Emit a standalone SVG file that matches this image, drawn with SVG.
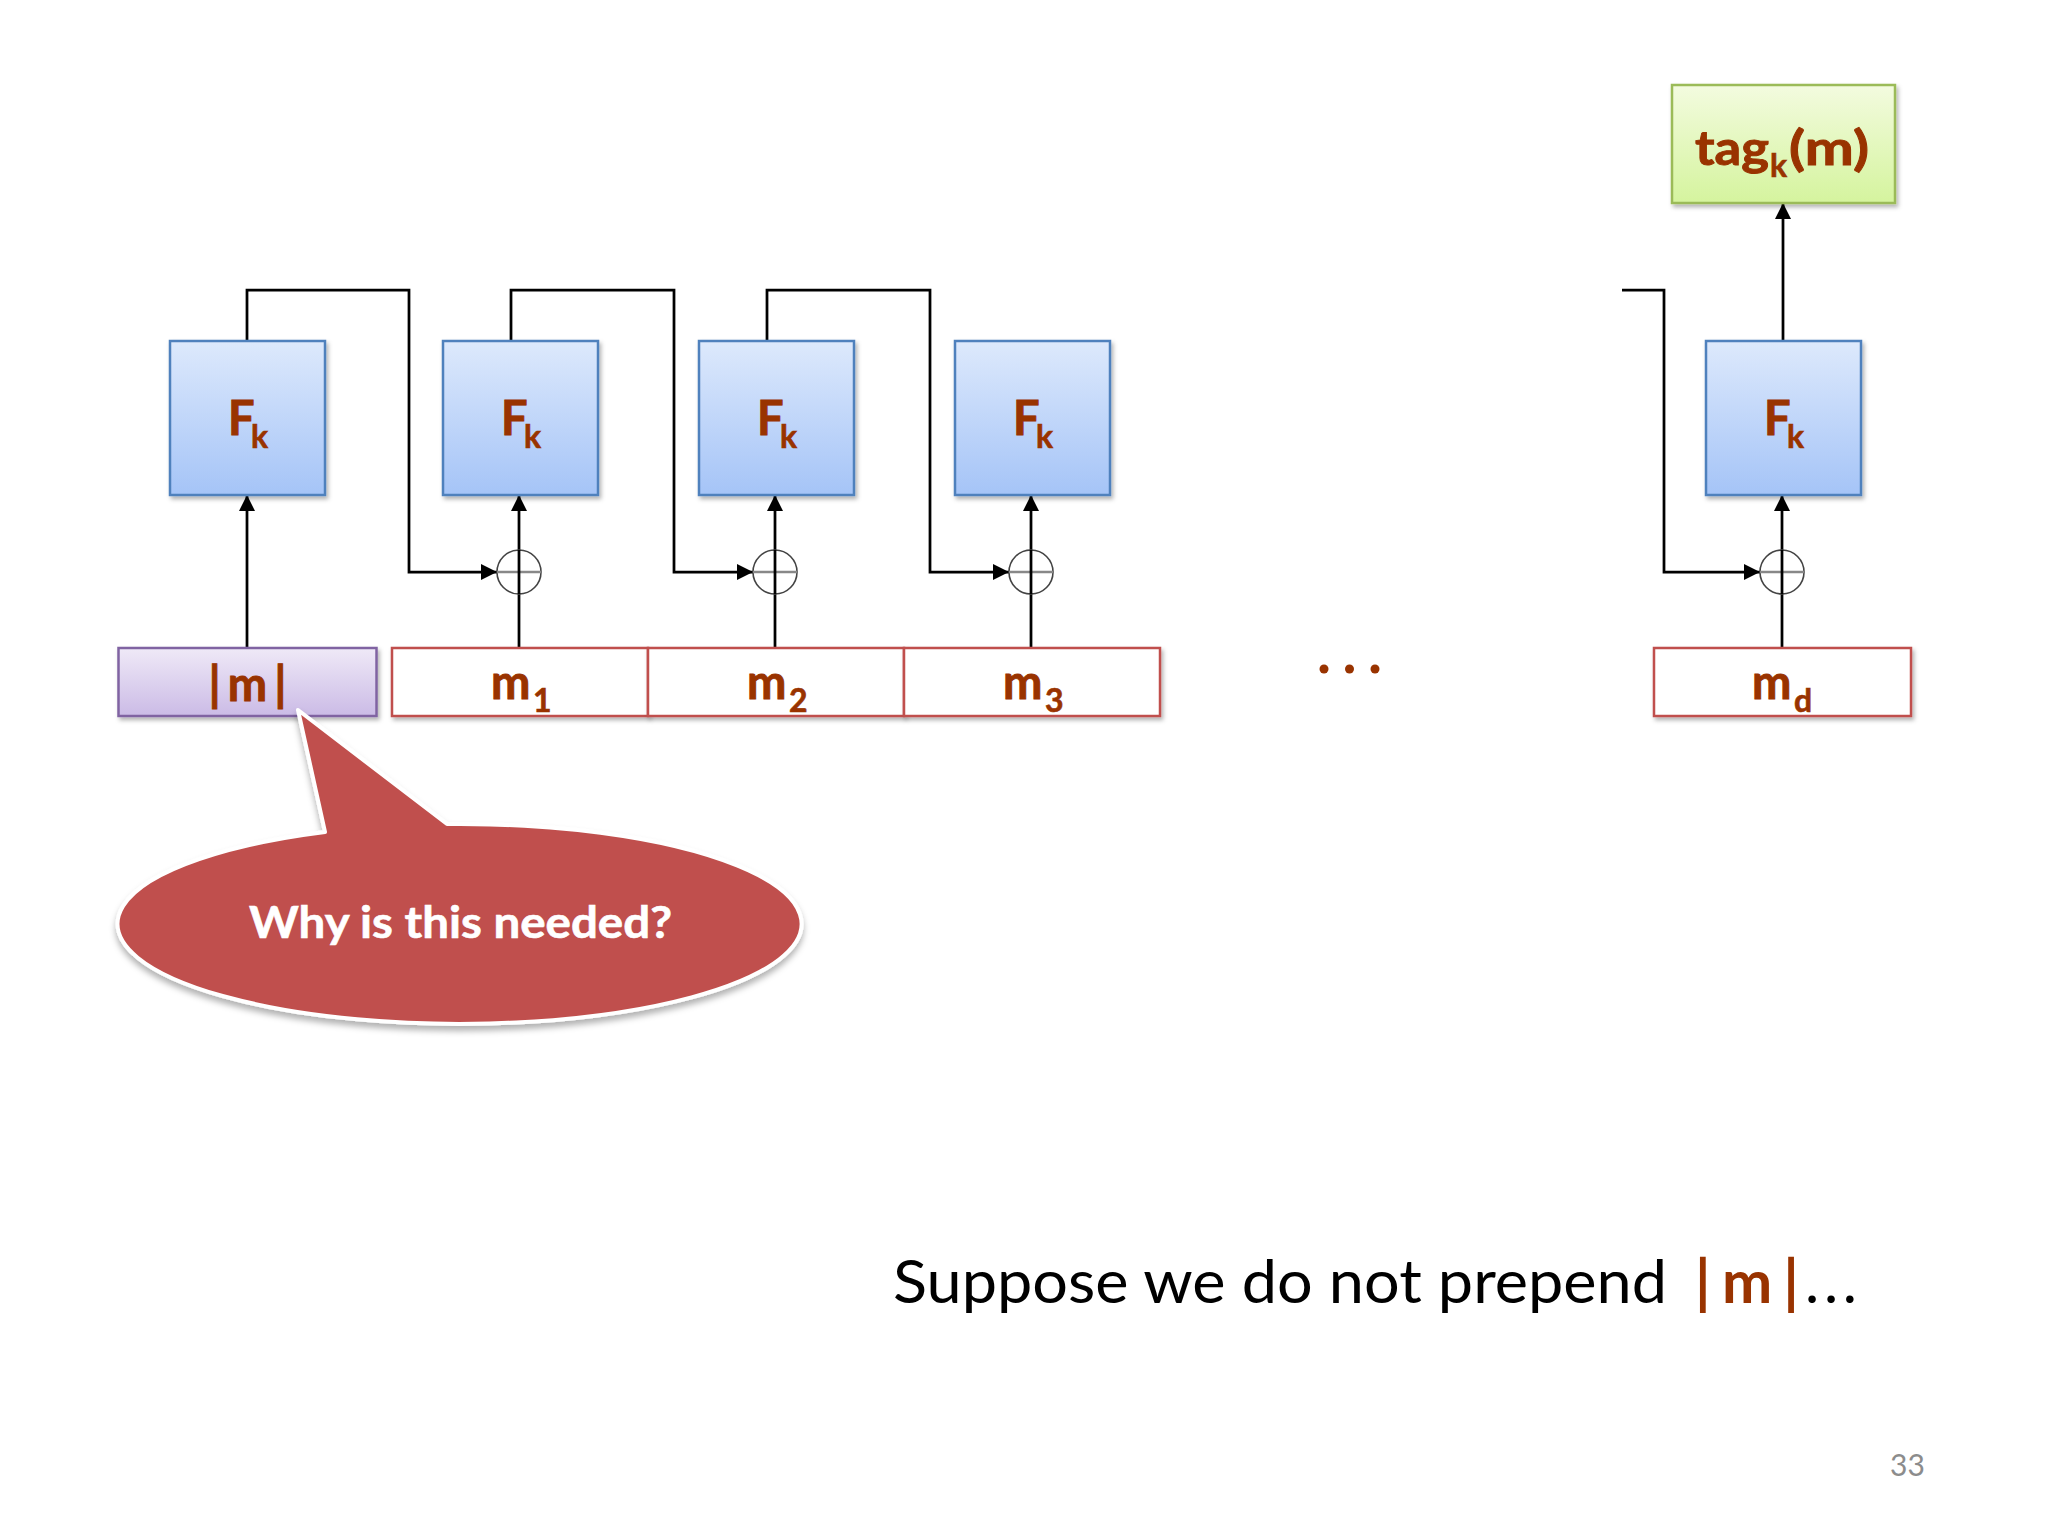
<svg xmlns="http://www.w3.org/2000/svg" width="2048" height="1536" viewBox="0 0 2048 1536">
<defs>
<style>
.lbl{font-family:"Lato","Open Sans",sans-serif;font-weight:bold;fill:#993300;stroke:#993300;stroke-width:0.9;font-size:47px}
.sub{font-size:32px;stroke-width:0.6}
.fbox{fill:url(#gBlue);stroke:#4f81bd;stroke-width:2.5;filter:url(#sh)}
.mbox{fill:#ffffff;stroke:#c0504d;stroke-width:2.5;filter:url(#sh)}
.conn{fill:none;stroke:#000;stroke-width:2.75}
.arr{marker-end:url(#ah)}
.xc{fill:#ffffff;stroke:#444;stroke-width:1.6}
.xh{stroke:#888;stroke-width:2.5}
</style>
<linearGradient id="gBlue" x1="0" y1="0" x2="0" y2="1"><stop offset="0" stop-color="#dde9fc"/><stop offset="1" stop-color="#a5c4f7"/></linearGradient>
<linearGradient id="gPurple" x1="0" y1="0" x2="0" y2="1"><stop offset="0" stop-color="#efe9f7"/><stop offset="1" stop-color="#cbbbe6"/></linearGradient>
<linearGradient id="gGreen" x1="0" y1="0" x2="0" y2="1"><stop offset="0" stop-color="#f3fbdf"/><stop offset="1" stop-color="#d5f49e"/></linearGradient>
<filter id="sh" x="-10%" y="-10%" width="130%" height="140%"><feDropShadow dx="2" dy="3" stdDeviation="2" flood-color="#000" flood-opacity="0.3"/></filter>
<filter id="sh2" x="-10%" y="-10%" width="130%" height="140%"><feDropShadow dx="0" dy="5" stdDeviation="3" flood-color="#000" flood-opacity="0.3"/></filter>
<marker id="ah" viewBox="0 0 10 10" refX="10" refY="5" markerWidth="17" markerHeight="16" markerUnits="userSpaceOnUse" orient="auto"><path d="M0,0 L10,5 L0,10 z" fill="#000"/></marker>
</defs>
<rect width="2048" height="1536" fill="#ffffff"/>

<g id="connectors">
<path class="conn arr" d="M247,648 V495"/>
<path class="conn" d="M519,648 V594"/>
<path class="conn arr" d="M519,550 V495"/>
<path class="conn" d="M775,648 V594"/>
<path class="conn arr" d="M775,550 V495"/>
<path class="conn" d="M1031,648 V594"/>
<path class="conn arr" d="M1031,550 V495"/>
<path class="conn" d="M1782,648 V594"/>
<path class="conn arr" d="M1782,550 V495"/>
<path class="conn arr" d="M247,341 V290 H409 V572 H497"/>
<path class="conn arr" d="M511,341 V290 H674 V572 H753"/>
<path class="conn arr" d="M767,341 V290 H930 V572 H1009"/>
<path class="conn arr" d="M1622,290 H1664 V572 H1760"/>
<path class="conn arr" d="M1783,341 V203"/>
</g>

<g id="xor1"><circle class="xc" cx="519" cy="572" r="22"/><line class="xh" x1="497" y1="572" x2="541" y2="572"/><line class="conn" x1="519" y1="550" x2="519" y2="594"/></g>
<g id="xor2"><circle class="xc" cx="775" cy="572" r="22"/><line class="xh" x1="753" y1="572" x2="797" y2="572"/><line class="conn" x1="775" y1="550" x2="775" y2="594"/></g>
<g id="xor3"><circle class="xc" cx="1031" cy="572" r="22"/><line class="xh" x1="1009" y1="572" x2="1053" y2="572"/><line class="conn" x1="1031" y1="550" x2="1031" y2="594"/></g>
<g id="xor4"><circle class="xc" cx="1782" cy="572" r="22"/><line class="xh" x1="1760" y1="572" x2="1804" y2="572"/><line class="conn" x1="1782" y1="550" x2="1782" y2="594"/></g>

<g id="f1"><rect class="fbox" x="170" y="341" width="155" height="154"/><text class="lbl" x="228" y="435">F</text><text class="lbl sub" x="251" y="448">k</text></g>
<g id="f2"><rect class="fbox" x="443" y="341" width="155" height="154"/><text class="lbl" x="501" y="435">F</text><text class="lbl sub" x="524" y="448">k</text></g>
<g id="f3"><rect class="fbox" x="699" y="341" width="155" height="154"/><text class="lbl" x="757" y="435">F</text><text class="lbl sub" x="780" y="448">k</text></g>
<g id="f4"><rect class="fbox" x="955" y="341" width="155" height="154"/><text class="lbl" x="1013" y="435">F</text><text class="lbl sub" x="1036" y="448">k</text></g>
<g id="f5"><rect class="fbox" x="1706" y="341" width="155" height="154"/><text class="lbl" x="1764" y="435">F</text><text class="lbl sub" x="1787" y="448">k</text></g>

<g id="tag"><rect x="1672" y="85" width="223" height="118" fill="url(#gGreen)" stroke="#9bbb59" stroke-width="2.5" filter="url(#sh)"/><text class="lbl" x="1695" y="165" font-size="52" textLength="74" lengthAdjust="spacingAndGlyphs">tag</text><text class="lbl sub" x="1770" y="177" font-size="34">k</text><text class="lbl" x="1789" y="165" font-size="52" textLength="80" lengthAdjust="spacingAndGlyphs">(m)</text></g>

<g id="len"><rect x="118.5" y="648" width="258" height="68" fill="url(#gPurple)" stroke="#8064a2" stroke-width="2.5" filter="url(#sh)"/><text class="lbl" x="247.5" y="701" font-size="50" text-anchor="middle" textLength="78" lengthAdjust="spacing">|m|</text></g>
<g id="m1"><rect class="mbox" x="392" y="648" width="256" height="68"/><text class="lbl" x="491" y="699">m</text><text class="lbl sub" x="533" y="712">1</text></g>
<g id="m2"><rect class="mbox" x="648" y="648" width="256" height="68"/><text class="lbl" x="747" y="699">m</text><text class="lbl sub" x="789" y="712">2</text></g>
<g id="m3"><rect class="mbox" x="904" y="648" width="256" height="68"/><text class="lbl" x="1003" y="699">m</text><text class="lbl sub" x="1045" y="712">3</text></g>
<g id="md"><rect class="mbox" x="1654" y="648" width="257" height="68"/><text class="lbl" x="1752" y="699">m</text><text class="lbl sub" x="1794" y="712">d</text></g>

<g id="dots" fill="#993300"><circle cx="1324" cy="669" r="4.5"/><circle cx="1349.5" cy="669" r="4.5"/><circle cx="1375" cy="669" r="4.5"/></g>

<g id="callout">
<path d="M325,832 L298,710 L447,824 A342 100 0 1 1 325,832 Z" fill="#c0504d" stroke="#ffffff" stroke-width="4" stroke-linejoin="round" filter="url(#sh2)"/>
<text x="249" y="938" font-family="Lato, 'Open Sans', sans-serif" font-weight="bold" font-size="44" fill="#ffffff" stroke="#ffffff" stroke-width="0.6" textLength="423" lengthAdjust="spacingAndGlyphs">Why is this needed?</text>
</g>

<g id="caption" font-family="Lato, 'Open Sans', sans-serif" font-size="60">
<text x="893" y="1303" fill="#000" textLength="774" lengthAdjust="spacingAndGlyphs">Suppose we do not prepend</text>
<text x="1695" y="1303" fill="#993300" font-weight="bold" textLength="104" lengthAdjust="spacing">|m|</text>
<text x="1805" y="1303" fill="#000" textLength="52" lengthAdjust="spacing">...</text>
</g>
<text id="page" x="1890" y="1476" font-family="Lato, 'Open Sans', sans-serif" font-size="30" fill="#8c8c8c">33</text>
</svg>
